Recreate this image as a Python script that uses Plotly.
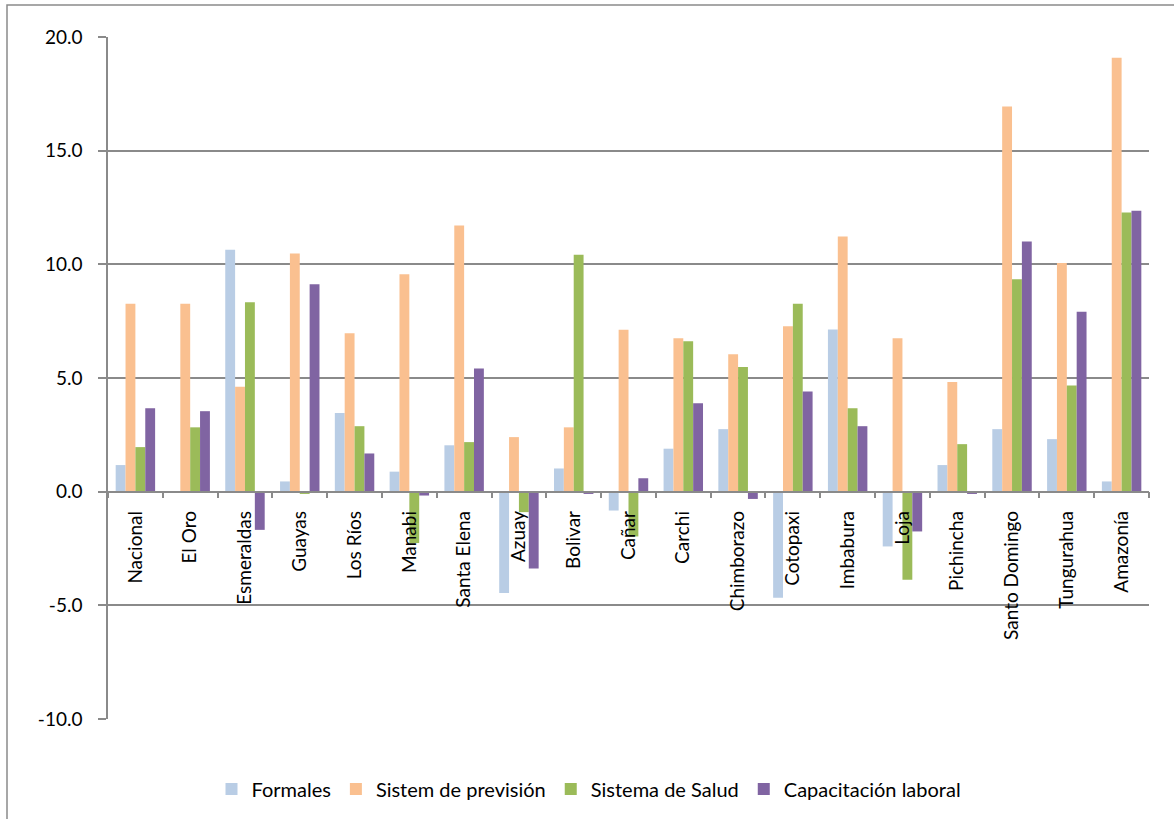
import plotly.graph_objects as go

categories = ["Nacional", "El Oro", "Esmeraldas", "Guayas", "Los Ríos", "Manabi",
              "Santa Elena", "Azuay", "Bolivar", "Cañar", "Carchi", "Chimborazo",
              "Cotopaxi", "Imbabura", "Loja", "Pichincha", "Santo Domingo",
              "Tungurahua", "Amazonía"]

formales = [1.17, None, 10.64, 0.45, 3.46, 0.88, 2.04, -4.46, 1.02, -0.83, 1.89,
            2.75, -4.67, 7.13, -2.41, 1.17, 2.75, 2.31, 0.45]
prevision = [8.27, 8.27, 4.61, 10.48, 6.97, 9.56, 11.71, 2.40, 2.83, 7.12, 6.75,
             6.05, 7.28, 11.22, 6.75, 4.82, 16.94, 10.06, 19.09]
salud = [1.96, 2.83, 8.33, -0.10, 2.88, -2.26, 2.18, -0.90, 10.42, -1.97, 6.62,
         5.48, 8.27, 3.67, -3.88, 2.09, 9.34, 4.67, 12.28]
capacitacion = [3.67, 3.54, -1.68, 9.12, 1.68, -0.17, 5.42, -3.38, -0.10, 0.59, 3.89,
                -0.32, 4.41, 2.88, -1.75, -0.10, 11.00, 7.91, 12.36]

series_names = ["Formales", "Sistem de previsión", "Sistema de Salud", "Capacitación laboral"]
series_values = [formales, prevision, salud, capacitacion]
colors = ["#B9CDE5", "#FAC090", "#9BBB59", "#8064A2"]

y_ticks = [-10, -5, 0, 5, 10, 15, 20]
y_tick_labels = ["-10.0", "-5.0", "0.0", "5.0", "10.0", "15.0", "20.0"]

FONT = "Lato"
GRID = "#8A8A8A"

W, H = 1174, 819
L, R, T, B = 108, 25, 37, 99
PW, PH = W - L - R, H - T - B

fig = go.Figure()
for name, vals, col in zip(series_names, series_values, colors):
    fig.add_trace(go.Bar(x=categories, y=vals, name=name,
                         marker=dict(color=col, line=dict(width=0))))

fig.update_layout(
    width=W, height=H,
    margin=dict(l=L, r=R, t=T, b=B),
    paper_bgcolor="white", plot_bgcolor="white",
    barmode="group", bargap=0.28, bargroupgap=0,
    font=dict(family=FONT, size=19, color="black"),
    legend=dict(orientation="h", x=(589 - L) / PW, xanchor="center",
                y=(H - B - 789) / PH, yanchor="middle",
                font=dict(family=FONT, size=20, color="black"),
                itemwidth=30, traceorder="normal"),
    showlegend=True,
)

fig.update_yaxes(range=[-10, 20], tickvals=y_ticks, ticktext=y_tick_labels,
                 showgrid=True, gridcolor=GRID, gridwidth=1.5,
                 zeroline=False, showline=True, linecolor=GRID, linewidth=1.5,
                 ticks="outside", ticklen=8, tickcolor=GRID, tickwidth=1.5,
                 ticklabelstandoff=12,
                 tickfont=dict(family=FONT, size=19, color="black"))

fig.update_xaxes(type="category", anchor="free", position=1/3,
                 showline=True, linecolor=GRID, linewidth=1.5,
                 ticks="outside", tickson="boundaries", ticklen=6, tickcolor=GRID, tickwidth=1.5,
                 tickangle=-90, ticklabelstandoff=11,
                 tickfont=dict(family=FONT, size=19, color="black"),
                 showgrid=False, zeroline=False)

# outer chart border
fig.add_shape(type="rect", xref="paper", yref="paper",
              x0=(7 - L) / PW, x1=(W + 10 - L) / PW,
              y0=(H - B - (H + 10)) / PH, y1=(H - B - 5) / PH,
              line=dict(color=GRID, width=1.5), fillcolor="rgba(0,0,0,0)", layer="below")

fig.write_html("out.html", config={"displayModeBar": False},
               post_script="document.body.style.margin='0px';document.body.style.padding='0px';")
